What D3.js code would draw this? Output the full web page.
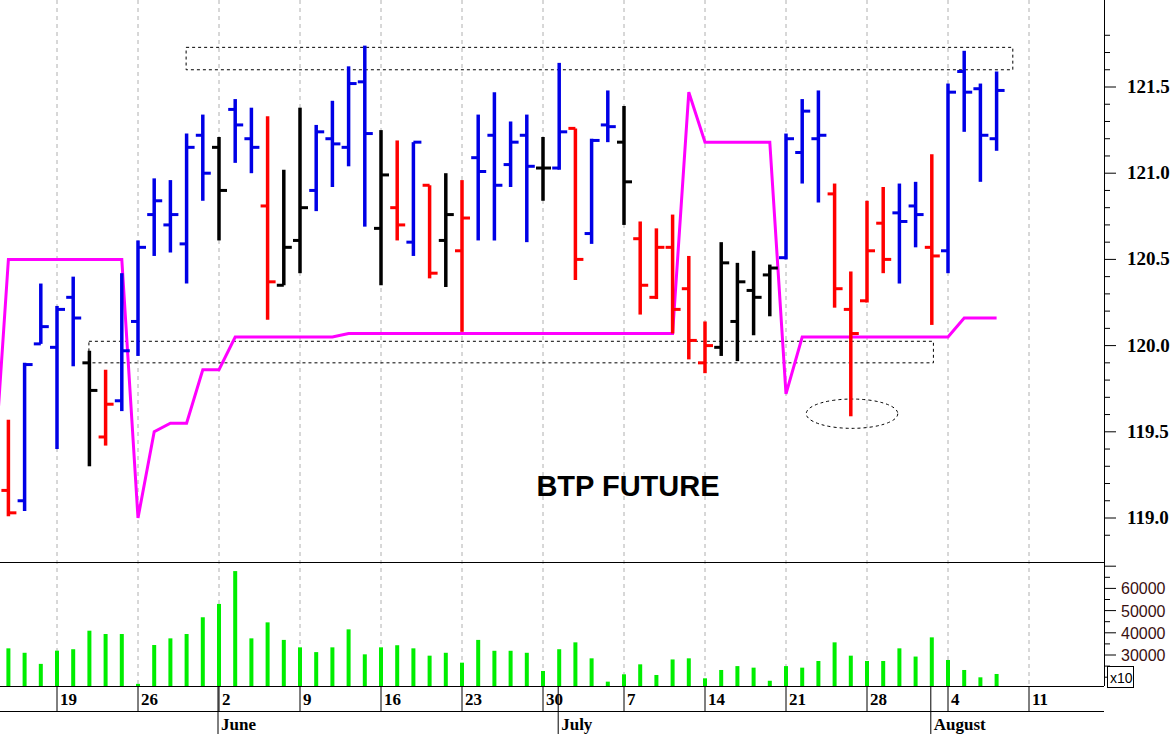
<!DOCTYPE html>
<html><head><meta charset="utf-8">
<script src="https://cdn.jsdelivr.net/npm/d3@7"></script>
<style>body{margin:0;background:#fff}svg{display:block}</style>
</head><body>
<svg id="c" width="1175" height="734"></svg>
<script>
// bar index 0 = May 14 (trading days)
const opens  = [119.16,119.10,120.01,119.99,120.28,119.90,119.47,119.68,120.14,120.76,120.70,120.59,121.22,121.15,121.37,121.20,120.81,120.35,120.61,120.90,121.20,121.15,121.53,120.68,120.80,120.60,120.93,120.61,120.55,121.09,121.22,121.05,121.22,121.03,121.03,121.26,120.65,121.28,121.18,120.62,120.28,120.57,120.33,119.90,119.99,120.14,120.32,120.41,120.51,121.12,121.20,120.88,120.21,120.26,120.71,120.77,120.81,120.57,120.55,121.59,121.49,121.20];
const highs  = [119.57,119.90,120.36,120.23,120.40,119.97,119.86,120.42,120.61,120.97,120.96,121.23,121.34,121.21,121.43,121.38,121.33,121.02,121.38,121.28,121.42,121.62,121.74,121.25,121.19,121.18,120.93,121.00,120.96,121.34,121.47,121.30,121.34,121.21,121.64,121.26,121.20,121.48,121.39,120.72,120.68,120.76,120.52,120.14,120.60,120.48,120.55,120.47,121.23,121.43,121.48,120.94,120.43,120.84,120.92,120.94,120.95,121.11,121.52,121.71,121.52,121.59];
const lows   = [119.01,119.04,120.01,119.40,119.88,119.30,119.42,119.62,119.94,120.52,120.54,120.36,120.84,120.61,121.06,121.00,120.15,120.35,120.42,120.78,120.92,121.04,120.69,120.35,120.61,120.52,120.39,120.34,120.08,120.61,120.61,120.92,120.60,120.84,121.02,120.38,120.59,121.18,120.70,120.18,120.27,120.07,119.92,119.84,119.94,119.91,120.06,120.17,120.50,120.94,120.83,120.22,119.59,120.25,120.42,120.36,120.57,120.12,120.42,121.24,120.95,121.13];
const closes = [119.03,119.89,120.11,120.21,120.16,119.74,119.66,119.97,120.57,120.84,120.76,121.15,121.00,120.90,121.28,121.15,120.37,120.57,120.80,121.24,121.17,121.52,121.23,120.99,120.70,121.18,120.42,120.76,120.74,121.01,120.93,121.18,121.04,121.03,121.24,120.50,121.19,121.27,120.95,120.35,120.57,120.21,120.03,120.00,120.48,120.37,120.28,120.45,121.20,121.36,121.22,120.33,120.07,120.55,120.50,120.72,120.76,120.52,121.47,121.47,121.22,121.48];
const barColors = "rbbbbkrbbbbbbkbbrkkbbbbkrbrkrbbbbkbrbbkrrrrrkkkkbbbrrrrbbrbbbb";
const volumes = [33000,31000,26000,31950,32600,40950,39450,39450,17000,34500,37500,39450,47000,53000,67800,37500,44700,36800,33450,31300,33450,41550,30300,33450,34400,33000,29700,31000,26550,36800,31900,31900,31000,22800,32600,35700,28500,18000,21300,25800,21000,28000,28500,19500,23250,25000,24300,18400,25000,24300,27300,35700,29700,27300,27300,33000,29300,37950,27750,23250,19950,21450];
// line starts one day before bar 0
const lineIdx0 = -1;
const lineVals = [119.10,120.50,120.50,120.50,120.50,120.50,120.50,120.50,120.50,119.00,119.50,119.55,119.55,119.86,119.86,120.05,120.05,120.05,120.05,120.05,120.05,120.05,120.07,120.07,120.07,120.07,120.07,120.07,120.07,120.07,120.07,120.07,120.07,120.07,120.07,120.07,120.07,120.07,120.07,120.07,120.07,120.07,120.07,121.47,121.18,121.18,121.18,121.18,121.18,119.72,120.05,120.05,120.05,120.05,120.05,120.05,120.05,120.05,120.05,120.05,120.16,120.16,120.16];
const weekIdx = [3,8,13,18,23,28,33,38,43,48,53,58,63];
const weekLabels = ["19","26","2","9","16","23","30","7","14","21","28","4","11"];
const monthIdx = [13,34,57];
const monthLabels = ["June","July","August"];
const priceTicks = [119.0,119.5,120.0,120.5,121.0,121.5];
const volTicks = [30000,40000,50000,60000];
// annotations: [i0, i1, pLow, pHigh]
const boxes = [[10.97,62.0,121.60,121.73],[4.97,57.1,119.90,120.025]];
const ellipse = [49.25,54.9,119.52,119.69];

const svg = d3.select("#c");
const AX = 1104;
const x = d3.scaleLinear().domain([0,1]).range([8.4,24.6]);
const y = d3.scaleLinear().domain([119,121.5]).range([518,87]);
const yv = d3.scaleLinear().domain([30000,60000]).range([655,588.4]);
const colMap = {r:"#ff0000",b:"#0000e6",k:"#000000"};

const g = svg.append("g");
weekIdx.forEach(i=>{
  g.append("line").attr("x1",x(i)).attr("x2",x(i)).attr("y1",0).attr("y2",686)
   .attr("stroke","#b0b0b0").attr("stroke-dasharray","4,4").attr("stroke-width",1);
});
g.append("line").attr("x1",0).attr("x2",AX).attr("y1",562.5).attr("y2",562.5).attr("stroke","#000");
g.append("line").attr("x1",0).attr("x2",AX).attr("y1",686.5).attr("y2",686.5).attr("stroke","#000");
g.append("line").attr("x1",0).attr("x2",AX).attr("y1",711.5).attr("y2",711.5).attr("stroke","#000");
g.append("line").attr("x1",AX+.5).attr("x2",AX+.5).attr("y1",0).attr("y2",686).attr("stroke","#000");

svg.append("clipPath").attr("id","pc").append("rect").attr("x",0).attr("y",0).attr("width",AX).attr("height",562);

boxes.forEach(b=>{
  svg.append("rect").attr("x",x(b[0])).attr("y",y(b[3])).attr("width",x(b[1])-x(b[0])).attr("height",y(b[2])-y(b[3]))
   .attr("fill","none").attr("stroke","#000").attr("stroke-dasharray","3,3").attr("stroke-width",1);
});
svg.append("ellipse").attr("cx",(x(ellipse[0])+x(ellipse[1]))/2).attr("cy",(y(ellipse[2])+y(ellipse[3]))/2)
  .attr("rx",(x(ellipse[1])-x(ellipse[0]))/2).attr("ry",(y(ellipse[2])-y(ellipse[3]))/2)
  .attr("fill","none").attr("stroke","#000").attr("stroke-dasharray","3,3");

const ln = d3.line().x((d,k)=>x(k+lineIdx0)).y(d=>y(d));
svg.append("path").datum(lineVals).attr("d",ln).attr("fill","none").attr("stroke","#ff00ff")
  .attr("stroke-width",3).attr("clip-path","url(#pc)");

const bg = svg.append("g").attr("clip-path","url(#pc)");
opens.forEach((o,i)=>{
  const c = colMap[barColors[i]], xi = x(i);
  bg.append("line").attr("x1",xi).attr("x2",xi).attr("y1",y(highs[i])).attr("y2",y(lows[i])).attr("stroke",c).attr("stroke-width",3.5);
  bg.append("line").attr("x1",xi-7).attr("x2",xi).attr("y1",y(o)).attr("y2",y(o)).attr("stroke",c).attr("stroke-width",3);
  bg.append("line").attr("x1",xi).attr("x2",xi+8).attr("y1",y(closes[i])).attr("y2",y(closes[i])).attr("stroke",c).attr("stroke-width",3);
});

svg.append("text").attr("x",628).attr("y",496).attr("text-anchor","middle")
  .attr("font-family","Liberation Sans, Arial, sans-serif").attr("font-weight","bold").attr("font-size",29).text("BTP FUTURE");

for(let p=118.9;p<=121.85;p+=0.1){
  const pr = Math.round(p*10)/10, major = Math.abs(pr*2-Math.round(pr*2))<1e-6;
  svg.append("line").attr("x1",AX).attr("x2",AX+(major?12:6)).attr("y1",y(pr)).attr("y2",y(pr)).attr("stroke","#000");
}
priceTicks.forEach(p=>{
  svg.append("text").attr("x",1127).attr("y",y(p)+6).attr("font-family","Liberation Serif, Times New Roman, serif")
    .attr("font-weight","bold").attr("font-size",19).text(p.toFixed(1));
});

volumes.forEach((v,i)=>{
  svg.append("rect").attr("x",x(i)-2).attr("width",4).attr("y",yv(v)).attr("height",686-yv(v)).attr("fill","#00ee00");
});
for(let v=20000;v<=70000;v+=5000){
  const major = v%10000===0;
  svg.append("line").attr("x1",AX).attr("x2",AX+(major?12:6)).attr("y1",yv(v)).attr("y2",yv(v)).attr("stroke","#000");
}
volTicks.forEach(v=>{
  svg.append("text").attr("x",1121).attr("y",yv(v)+6).attr("font-family","Liberation Sans, Arial, sans-serif")
    .attr("font-size",16).attr("fill","#3a1010").text(v);
});
svg.append("rect").attr("x",1107.5).attr("y",666.5).attr("width",26).attr("height",21).attr("fill","#fff").attr("stroke","#000");
svg.append("text").attr("x",1110).attr("y",683).attr("font-family","Liberation Sans, Arial, sans-serif").attr("font-size",14).text("x10");

weekIdx.forEach((i,k)=>{
  svg.append("line").attr("x1",x(i)).attr("x2",x(i)).attr("y1",686).attr("y2",711).attr("stroke","#000");
  svg.append("text").attr("x",x(i)+3).attr("y",705).attr("font-family","Liberation Serif, Times New Roman, serif")
    .attr("font-weight","bold").attr("font-size",17).text(weekLabels[k]);
});
monthIdx.forEach((i,k)=>{
  svg.append("line").attr("x1",x(i)-1).attr("x2",x(i)-1).attr("y1",686).attr("y2",734).attr("stroke","#000");
  svg.append("text").attr("x",x(i)+2).attr("y",730).attr("font-family","Liberation Serif, Times New Roman, serif")
    .attr("font-weight","bold").attr("font-size",17).text(monthLabels[k]);
});
</script>
</body></html>
